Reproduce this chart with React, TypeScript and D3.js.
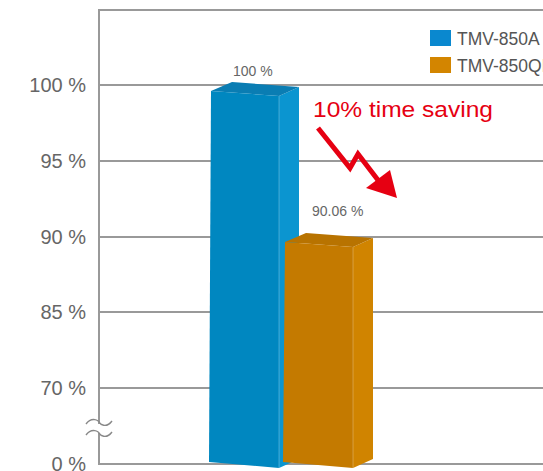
import React from "react";
import * as d3 from "d3";

const categories = ["TMV-850A", "TMV-850QII"];
const values = [100, 90.06];
const valueLabels = ["100 %", "90.06 %"];
const tickValues = [0, 70, 85, 90, 95, 100];
const tickLabels = ["0 %", "70 %", "85 %", "90 %", "95 %", "100 %"];
const annotation = "10% time saving";

const W = 543;
const H = 471;
const AXIS_X = 99;
const TOP_Y = 10;

const palette = [
  { front: "#0087c0", side: "#0b95d0", top: "#0a7db3", legend: "#0a88cf" },
  { front: "#c47a00", side: "#d08400", top: "#b87300", legend: "#d38500" },
];
const labelOffset = [
  { dx: 23, dy: -9 },
  { dx: 28, dy: -20 },
];

export default function App() {
  const y = d3
    .scaleLinear()
    .domain([0, 70, 85, 90, 95, 100, 105])
    .range([464, 388, 312, 237, 161, 85, 9]);
  const x = d3.scaleBand().domain(categories).range([210, 358]).padding(0);
  const base = y(0);
  const fw = x.bandwidth() - 5;
  const font = "'Liberation Sans', Arial, Helvetica, sans-serif";

  const bars = categories.map((c, i) => {
    const x0 = x(c) as number;
    const yv = y(values[i]);
    const FLt: [number, number] = [x0 + 1, yv + 6];
    const FRt: [number, number] = [x0 + fw, yv + 11];
    const FRb: [number, number] = [x0 + fw, base + 4];
    const FLb: [number, number] = [x0 - 1, base - 2];
    const BLt: [number, number] = [x0 + 22, yv - 3];
    const BRt: [number, number] = [x0 + fw + 20, yv + 2];
    const BRb: [number, number] = [x0 + fw + 20, base - 5];
    const poly = (pts: [number, number][]) => pts.map((p) => p.join(",")).join(" ");
    return (
      <g key={c}>
        <polygon points={poly([FRt, BRt, BRb, FRb])} fill={palette[i].side} />
        <polygon points={poly([FLt, BLt, BRt, FRt])} fill={palette[i].top} />
        <polygon points={poly([FLt, FRt, FRb, FLb])} fill={palette[i].front} />
        <line x1={FRt[0]} y1={FRt[1]} x2={FRb[0]} y2={FRb[1]} stroke="#ffffff" strokeOpacity={0.25} strokeWidth={1} />
        <text
          x={x0 + labelOffset[i].dx}
          y={yv + labelOffset[i].dy}
          fontFamily={font}
          fontSize={14}
          fill="#666"
        >
          {valueLabels[i]}
        </text>
      </g>
    );
  });

  return (
    <svg
      width={W}
      height={H}
      style={{ position: "absolute", left: 0, top: 0, background: "#fff" }}
    >
      <rect width={W} height={H} fill="#fff" />
      {tickValues.map((t, i) => (
        <g key={t}>
          <line
            x1={AXIS_X}
            x2={W}
            y1={y(t)}
            y2={y(t)}
            stroke={t === 0 ? "#999" : "#777"}
            strokeWidth={t === 0 ? 2 : 1.5}
          />
          <text
            x={86}
            y={y(t) + 7}
            textAnchor="end"
            fontFamily={font}
            fontSize={20}
            fill="#666"
          >
            {tickLabels[i]}
          </text>
        </g>
      ))}
      <line x1={AXIS_X} x2={W} y1={TOP_Y} y2={TOP_Y} stroke="#999" strokeWidth={2} />
      <line x1={AXIS_X} x2={AXIS_X} y1={TOP_Y - 1} y2={base + 1} stroke="#999" strokeWidth={2} />
      <rect x={92} y={424} width={14} height={9} fill="#fff" />
      <path d="M86,424 C92,416 99,421 99,422 C100,424 106,429 112,421" fill="none" stroke="#888" strokeWidth={1.4} />
      <path d="M86,435 C92,427 99,432 99,433 C100,435 106,440 112,432" fill="none" stroke="#888" strokeWidth={1.4} />
      {bars}
      {categories.map((c, i) => (
        <g key={c} transform={`translate(430, ${30 + i * 27})`}>
          <rect width={21} height={16} fill={palette[i].legend} />
          <text x={27} y={14.5} fontFamily={font} fontSize={17.5} fill="#555">
            {c}
          </text>
        </g>
      ))}
      <text x={313} y={117} fontFamily={font} fontSize={22} fill="#e60012" textLength={180} lengthAdjust="spacingAndGlyphs">
        {annotation}
      </text>
      <polyline
        points="318,128 350,168 358,154 381,184"
        fill="none"
        stroke="#e60012"
        strokeWidth={5}
        strokeLinejoin="miter"
      />
      <polygon points="397,198 366,188 390,170" fill="#e60012" />
    </svg>
  );
}
